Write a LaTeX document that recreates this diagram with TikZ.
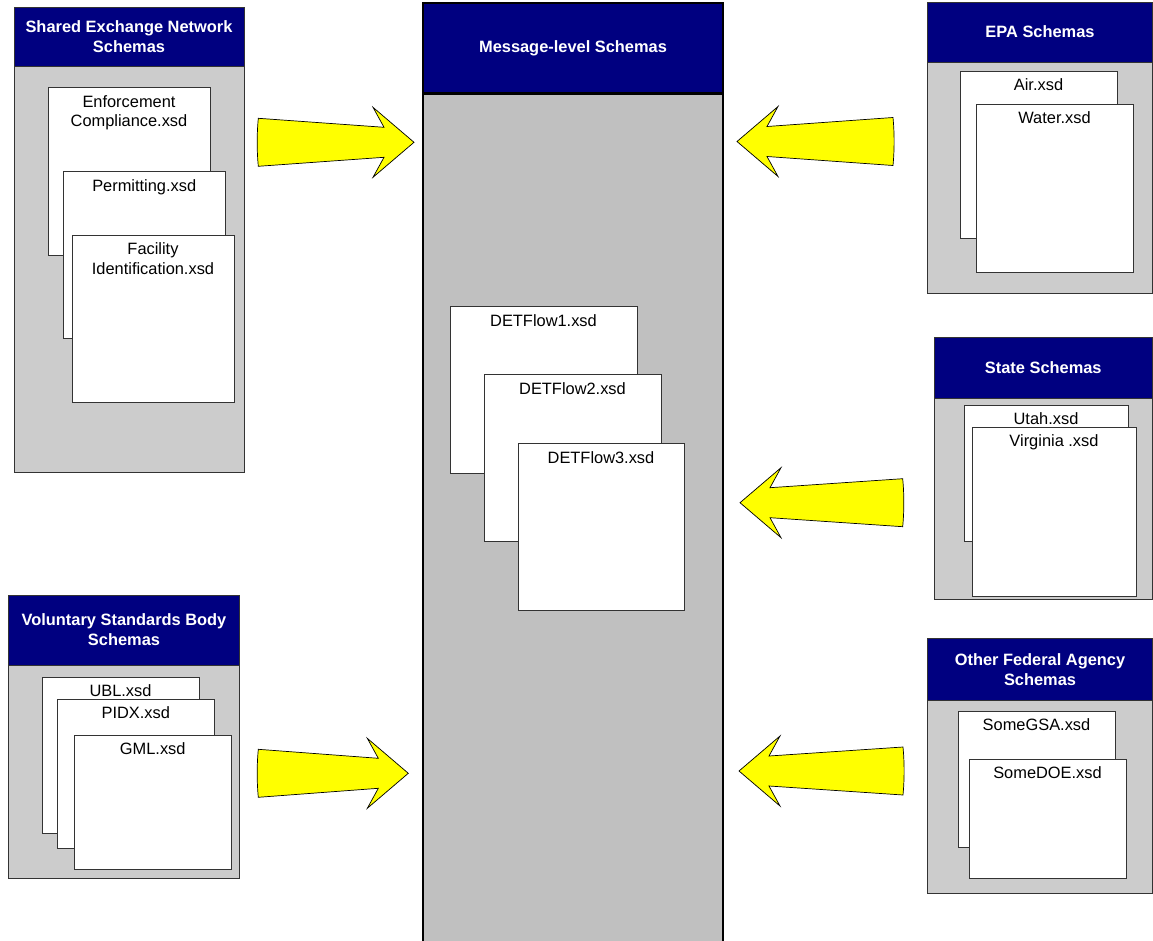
\documentclass[tikz,border=0pt]{standalone}
\usepackage{fontspec}
\setmainfont{Liberation Sans}
\usetikzlibrary{fit}
\definecolor{navyhead}{HTML}{000080}
\definecolor{grpgray}{HTML}{CCCCCC}
\definecolor{msggray}{HTML}{C0C0C0}
\definecolor{arrowyellow}{HTML}{FFFF00}
\newcommand\yarrow[4]{%
  \begin{scope}[shift={(#1,#2)}, xscale=#4]
    \draw[yarrowstyle] (0,0) -- (-41,-35) -- (-30,-15) -- (-#3,-24)
      .. controls (-#3-1.5,-8) and (-#3-1.5,8) .. (-#3,24)
      -- (-30,15) -- (-41,35) -- cycle;
  \end{scope}}
\begin{document}
\begin{tikzpicture}[x=1pt,y=-1pt,
  every node/.style={font=\fontsize{16.4}{19.4}\selectfont},
  grpbody/.style={fill=grpgray, draw=black!80, line width=0.8pt, inner sep=0pt},
  grphead/.style={fill=navyhead, draw=black!80, line width=0.8pt, inner sep=0pt},
  headtext/.style={text=white, align=center, inner sep=0pt,
    font=\bfseries\fontsize{16.4}{20}\selectfont},
  msgbody/.style={fill=msggray, draw=black, line width=2.5pt, inner sep=0pt},
  msghead/.style={fill=navyhead, draw=black, line width=2.5pt, inner sep=0pt},
  doc/.style={fill=white, draw=black!80, line width=0.8pt, inner sep=0pt},
  doctext/.style={anchor=north, inner sep=0pt, align=center},
  yarrowstyle/.style={fill=arrowyellow, draw=black, line width=0.7pt, line join=miter}]
\useasboundingbox (0,0) rectangle (1153,941);

% ---------- Message-level ----------
\node[msgbody, fit={(423,94)(723,944)}] (msgbody) {};
\node[msghead, fit={(423,3)(723,93)}] (msghead) {};
\node[headtext] (msgheadt) at (msghead.center) {Message-level Schemas};
\node[doc, fit={(450,306)(637,473)}] (det1) {};
\node[doctext] (det1t) at ([yshift=-8.5pt]det1.north) {DETFlow1.xsd};
\node[doc, fit={(484,374)(661,541)}] (det2) {};
\node[doctext] (det2t) at ([yshift=-8.5pt]det2.north) {DETFlow2.xsd};
\node[doc, fit={(518,443)(684,610)}] (det3) {};
\node[doctext] (det3t) at ([yshift=-8.5pt]det3.north) {DETFlow3.xsd};

% ---------- Shared Exchange Network ----------
\node[grpbody, fit={(14,7)(244,472)}] (sharedbody) {};
\node[grphead, fit={(14,7)(244,66)}] (sharedhead) {};
\node[headtext] (sharedheadt) at (sharedhead.center) {Shared Exchange Network\\Schemas};
\node[doc, fit={(48,87)(210,255)}] (enf) {};
\node[doctext] (enft) at ([yshift=-8.5pt]enf.north) {Enforcement\\Compliance.xsd};
\node[doc, fit={(63,171)(225.5,338)}] (perm) {};
\node[doctext] (permt) at ([yshift=-8.5pt]perm.north) {Permitting.xsd};
\node[doc, fit={(72,235)(234,402)}] (fac) {};
\node[doctext] (fact) at ([yshift=-8pt]fac.north) {Facility\\Identification.xsd};

% ---------- Voluntary Standards Body ----------
\node[grpbody, fit={(8.5,595)(239.5,878.5)}] (volbody) {};
\node[grphead, fit={(8.5,595)(239.5,665)}] (volhead) {};
\node[headtext] (volheadt) at (volhead.center) {Voluntary Standards Body\\Schemas};
\node[doc, fit={(42,677)(199,833.5)}] (ubl) {};
\node[doctext] (ublt) at ([yshift=-8pt]ubl.north) {UBL.xsd};
\node[doc, fit={(57.5,699.5)(214,848.5)}] (pidx) {};
\node[doctext] (pidxt) at ([yshift=-7.5pt]pidx.north) {PIDX.xsd};
\node[doc, fit={(74,735)(231.5,869.5)}] (gml) {};
\node[doctext] (gmlt) at ([yshift=-8pt]gml.north) {GML.xsd};

% ---------- EPA ----------
\node[grpbody, fit={(927.5,2)(1152.5,293)}] (epabody) {};
\node[grphead, fit={(927.5,2)(1152.5,62)}] (epahead) {};
\node[headtext] (epaheadt) at (epahead.center) {EPA Schemas};
\node[doc, fit={(960,71)(1117,238)}] (air) {};
\node[doctext] (airt) at ([yshift=-7.5pt]air.north) {Air.xsd};
\node[doc, fit={(976,104.5)(1133,272)}] (water) {};
\node[doctext] (watert) at ([yshift=-7.5pt]water.north) {Water.xsd};

% ---------- State ----------
\node[grpbody, fit={(934,337.5)(1152.5,599.5)}] (statebody) {};
\node[grphead, fit={(934,337.5)(1152.5,398.5)}] (statehead) {};
\node[headtext] (stateheadt) at (statehead.center) {State Schemas};
\node[doc, fit={(964,405)(1128,541)}] (utah) {};
\node[doctext] (utaht) at ([yshift=-8pt]utah.north) {Utah.xsd};
\node[doc, fit={(972,427.5)(1136,596)}] (virg) {};
\node[doctext] (virgt) at ([yshift=-7.5pt]virg.north) {Virginia .xsd};

% ---------- Other Federal Agency ----------
\node[grpbody, fit={(927.5,638.5)(1152.5,893.5)}] (fedbody) {};
\node[grphead, fit={(927.5,638.5)(1152.5,700)}] (fedhead) {};
\node[headtext] (fedheadt) at (fedhead.center) {Other Federal Agency\\Schemas};
\node[doc, fit={(958,711)(1115,847.5)}] (gsa) {};
\node[doctext] (gsat) at ([yshift=-8pt]gsa.north) {SomeGSA.xsd};
\node[doc, fit={(969,759)(1126,878.5)}] (doe) {};
\node[doctext] (doet) at ([yshift=-8pt]doe.north) {SomeDOE.xsd};

% ---------- Arrows ----------
\yarrow{414}{142.3}{155.7}{1}
\yarrow{408.3}{773.3}{150}{1}
\yarrow{737}{141.5}{156}{-1}
\yarrow{740}{502.7}{162.7}{-1}
\yarrow{739}{771}{164}{-1}
\end{tikzpicture}
\end{document}
